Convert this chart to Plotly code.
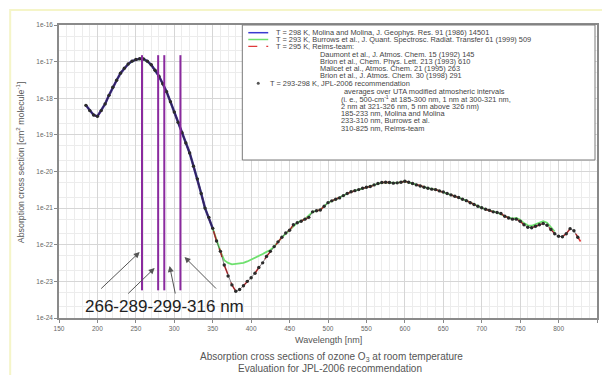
import plotly.graph_objects as go

# ---------------- data ----------------
jpl_wl = [185,190,195,200,205,210,215,220,225,230,235,240,245,250,255,260,265,270,275,280,
          285,290,295,300,305,310,315,320,325,330,335,340,345,350,355,360,365,370,375,380,
          385,390,395,400,405,410,415,420,425,430,435,440,445,450,455,460,465,470,475,480,
          485,490,495,500,505,510,515,520,525,530,535,540,545,550,555,560,565,570,575,580,
          585,590,595,600,605,610,615,620,625,630,635,640,645,650,655,660,665,670,675,680,
          685,690,695,700,705,710,715,720,725,730,735,740,745,750,755,760,765,770,775,780,
          785,790,795,800,805,810,815,820,825]
jpl_sigma = [6.4e-19,4.6e-19,3.5e-19,3.2e-19,4.6e-19,7.0e-19,1.2e-18,2.0e-18,3.1e-18,4.8e-18,
             6.6e-18,8.6e-18,1.03e-17,1.14e-17,1.2e-17,1.18e-17,1.03e-17,8.2e-18,5.8e-18,4.0e-18,
             2.5e-18,1.5e-18,8.0e-19,4.2e-19,2.2e-19,1.15e-19,6.0e-20,3.2e-20,1.4e-20,6.3e-21,
             2.5e-21,1.0e-21,5.6e-22,2.8e-22,1.26e-22,6.6e-23,2.8e-23,1.4e-23,8.0e-24,5.4e-24,
             6.0e-24,7.6e-24,1.0e-23,1.26e-23,1.66e-23,2.4e-23,3.2e-23,4.8e-23,6.6e-23,8.9e-23,
             1.2e-22,1.6e-22,2.1e-22,2.5e-22,3.5e-22,4.0e-22,4.4e-22,5.0e-22,5.6e-22,7.9e-22,
             8.5e-22,8.9e-22,1.12e-21,1.41e-21,1.58e-21,1.74e-21,1.9e-21,2.2e-21,2.5e-21,2.8e-21,
             3.0e-21,3.2e-21,3.5e-21,3.7e-21,3.9e-21,4.3e-21,4.7e-21,5.0e-21,5.1e-21,5.0e-21,
             4.8e-21,4.9e-21,5.1e-21,5.4e-21,5.1e-21,4.7e-21,4.3e-21,4.0e-21,3.7e-21,3.5e-21,
             3.3e-21,3.2e-21,2.95e-21,2.75e-21,2.5e-21,2.3e-21,2.1e-21,1.95e-21,1.74e-21,1.6e-21,
             1.4e-21,1.26e-21,1.12e-21,1.02e-21,9.3e-22,8.7e-22,7.9e-22,7.6e-22,7.1e-22,6.0e-22,
             5.4e-22,5.0e-22,5.0e-22,4.4e-22,3.5e-22,3.0e-22,2.9e-22,3.2e-22,3.5e-22,3.8e-22,
             3.4e-22,2.6e-22,2.0e-22,1.7e-22,1.66e-22,2.0e-22,2.75e-22,2.4e-22,1.6e-22]

# Molina & Molina (185-350 nm)
molina_wl = [185,190,195,200,205,210,215,220,225,230,235,240,245,250,255,260,265,270,275,280,
             285,290,295,300,305,310,315,320,325,330,335,340,345,350]
molina_sigma = [6.4e-19,4.6e-19,3.5e-19,3.2e-19,4.6e-19,7.0e-19,1.2e-18,2.0e-18,3.1e-18,4.8e-18,
                6.6e-18,8.6e-18,1.03e-17,1.14e-17,1.2e-17,1.18e-17,1.03e-17,8.2e-18,5.8e-18,4.0e-18,
                2.5e-18,1.5e-18,8.0e-19,4.2e-19,2.2e-19,1.15e-19,6.0e-20,3.2e-20,1.4e-20,6.3e-21,
                2.5e-21,1.0e-21,5.6e-22,2.8e-22]

# Burrows et al. (230-795 nm); differs from the others in the Huggins minimum and near 780 nm
burrows_wl = [230,240,250,260,270,280,290,300,310,320,330,340,350,355,360,365,370,375,380,385,
              390,395,400,405,410,415,420,425,430,435,440,450,460,470,480,490,500,510,520,530,
              540,550,560,570,580,590,600,610,620,630,640,650,660,670,680,690,700,710,720,730,
              740,745,750,755,760,765,770,775,780,785,790,795]
burrows_sigma = [4.8e-18,8.6e-18,1.14e-17,1.18e-17,8.2e-18,4.0e-18,1.5e-18,4.2e-19,1.15e-19,3.2e-20,
                 6.3e-21,1.0e-21,2.8e-22,1.26e-22,6.6e-23,3.8e-23,3.2e-23,2.9e-23,3.0e-23,3.1e-23,
                 3.2e-23,3.5e-23,3.9e-23,4.3e-23,5.0e-23,5.6e-23,6.4e-23,7.2e-23,8.9e-23,1.2e-22,
                 1.6e-22,2.5e-22,4.0e-22,5.0e-22,7.9e-22,8.9e-22,1.41e-21,1.74e-21,2.2e-21,2.8e-21,
                 3.2e-21,3.7e-21,4.3e-21,5.0e-21,5.0e-21,4.9e-21,5.4e-21,4.7e-21,4.0e-21,3.5e-21,
                 3.2e-21,2.75e-21,2.3e-21,1.95e-21,1.6e-21,1.26e-21,1.02e-21,8.7e-22,7.6e-22,6.0e-22,
                 5.2e-22,5.4e-22,4.8e-22,3.9e-22,3.4e-22,3.3e-22,3.6e-22,4.0e-22,4.4e-22,4.0e-22,
                 3.0e-22,2.3e-22]

# Reims team (195-830 nm)
reims_wl = jpl_wl[2:] + [830]
reims_sigma = jpl_sigma[2:] + [1.1e-22]

# marked wavelengths (vertical purple lines) and their label
marked_wl = [258, 279, 287, 308]
marked_top = 1.5e-17
marked_bottom = 5.7e-24
marked_label = "266-289-299-316 nm"

y_tick_exp = [-16, -17, -18, -19, -20, -21, -22, -23, -24]
x_ticks = list(range(150, 851, 50))

legend_lines = [
    ("T = 298 K, Molina and Molina, J. Geophys. Res. 91 (1986) 14501", 275, 32.7),
    ("T = 293 K, Burrows et al., J. Quant. Spectrosc. Radiat. Transfer 61 (1999) 509", 275, 39.5),
    ("T = 295 K, Reims-team:", 275, 46.3),
    ("Daumont et al., J. Atmos. Chem. 15 (1992) 145", 319, 54),
    ("Brion et al., Chem. Phys. Lett. 213 (1993) 610", 319, 61.3),
    ("Malicet et al., Atmos. Chem. 21 (1995) 263", 319, 68.3),
    ("Brion et al., J. Atmos. Chem. 30 (1998) 291", 319, 75.3),
    ("T = 293-298 K, JPL-2006 recommendation", 269, 83.3),
    ("averages over UTA modified atmosheric intervals", 343, 91),
    ("(i. e., 500-cm<sup>-1</sup> at 185-300 nm, 1 nm at 300-321 nm,", 340, 98.7),
    ("2 nm at 321-326 nm, 5 nm above 326 nm)", 340, 106),
    ("185-233 nm, Molina and Molina", 340, 113.3),
    ("233-310 nm, Burrows et al.", 340, 120.7),
    ("310-825 nm, Reims-team", 340, 128.3),
]

# ---------------- layout helpers ----------------
W, H = 602, 375
ML, MR, MT, MB = 59, 3, 25, 57
PW, PH = W - ML - MR, H - MT - MB


def px(x):
    return (x - ML) / PW


def py(y):
    return (H - MB - y) / PH


FONT = "Liberation Sans, Arial, sans-serif"
BLUE = "#3a3ad0"
GREEN = "#6ee06e"
RED = "#e03a3a"
PURPLE = "#8a2a9e"
DOT = "#2b2b2b"

fig = go.Figure()

fig.add_trace(go.Scatter(x=burrows_wl, y=burrows_sigma, mode="lines",
                         line=dict(color=GREEN, width=1.8), showlegend=False))
fig.add_trace(go.Scatter(x=reims_wl, y=reims_sigma, mode="lines",
                         line=dict(color=RED, width=1.6, dash="dash"), showlegend=False))
fig.add_trace(go.Scatter(x=molina_wl, y=molina_sigma, mode="lines",
                         line=dict(color="#3a2a8a", width=2.4), showlegend=False))
fig.add_trace(go.Scatter(x=jpl_wl, y=jpl_sigma, mode="lines+markers",
                         line=dict(color="rgba(40,30,40,0.55)", width=1),
                         marker=dict(color=DOT, size=3.4), showlegend=False))

vx, vy = [], []
for w in marked_wl:
    vx += [w, w, None]
    vy += [marked_top, marked_bottom, None]
fig.add_trace(go.Scatter(x=vx, y=vy, mode="lines",
                         line=dict(color=PURPLE, width=2), showlegend=False))

shapes = []
annotations = []

# faint slide frame
shapes.append(dict(type="rect", xref="paper", yref="paper", x0=px(10), x1=px(606),
                   y0=py(10), y1=py(380), line=dict(color="#f5f5c8", width=2), layer="below"))

# legend box
shapes.append(dict(type="rect", xref="paper", yref="paper", x0=px(243), x1=px(597),
                   y0=py(25), y1=py(160), fillcolor="white", line=dict(color="#7a7a7a", width=1)))
shapes.append(dict(type="line", xref="paper", yref="paper", x0=px(249), x1=px(269),
                   y0=py(32.7), y1=py(32.7), line=dict(color=BLUE, width=1.5)))
shapes.append(dict(type="line", xref="paper", yref="paper", x0=px(249), x1=px(269),
                   y0=py(39.5), y1=py(39.5), line=dict(color=GREEN, width=1.5)))
shapes.append(dict(type="line", xref="paper", yref="paper", x0=px(249), x1=px(269),
                   y0=py(46.3), y1=py(46.3), line=dict(color=RED, width=1.3, dash="dash")))
shapes.append(dict(type="circle", xref="paper", yref="paper", x0=px(257.5), x1=px(260.5),
                   y0=py(81.8), y1=py(84.8), fillcolor="#555", line=dict(color="#555", width=0)))

for txt, x, y in legend_lines:
    annotations.append(dict(text=txt, xref="paper", yref="paper", x=px(x), y=py(y),
                            xanchor="left", yanchor="middle", showarrow=False,
                            font=dict(size=7.4, color="#444", family=FONT)))

# arrows towards the marked lines
arrows = [((140, 252), (100, 290)), ((155, 268), (127, 295)),
          ((170, 266), (176, 295)), ((185, 257), (218, 290))]
for (hx, hy), (tx, ty) in arrows:
    annotations.append(dict(text="", xref="paper", yref="paper", x=px(hx), y=py(hy),
                            ax=tx - hx, ay=ty - hy, showarrow=True, arrowhead=2,
                            arrowsize=1.2, arrowwidth=1, arrowcolor="#555"))

annotations.append(dict(text=marked_label, xref="paper", yref="paper", x=px(165), y=py(306),
                        xanchor="center", yanchor="middle", showarrow=False,
                        font=dict(size=17, color="#222", family=FONT)))

# axis titles and captions
annotations.append(dict(text="Absorption cross section [cm<sup>2</sup> molecule<sup>-1</sup>]",
                        xref="paper", yref="paper", x=px(20), y=py(163), textangle=-90,
                        xanchor="center", yanchor="middle", showarrow=False,
                        font=dict(size=8.8, color="#555", family=FONT)))
annotations.append(dict(text="Wavelength [nm]", xref="paper", yref="paper", x=px(330), y=py(340),
                        xanchor="center", yanchor="middle", showarrow=False,
                        font=dict(size=9, color="#555", family=FONT)))
annotations.append(dict(text="Absorption cross sections of ozone O<sub>3</sub> at room temperature",
                        xref="paper", yref="paper", x=px(333), y=py(357),
                        xanchor="center", yanchor="middle", showarrow=False,
                        font=dict(size=10, color="#555", family=FONT)))
annotations.append(dict(text="Evaluation for JPL-2006 recommendation",
                        xref="paper", yref="paper", x=px(331), y=py(368),
                        xanchor="center", yanchor="middle", showarrow=False,
                        font=dict(size=10, color="#555", family=FONT)))

fig.update_layout(
    width=W, height=H, autosize=False,
    margin=dict(l=ML, r=MR, t=MT, b=MB),
    paper_bgcolor="white", plot_bgcolor="white",
    showlegend=False,
    shapes=shapes, annotations=annotations,
    font=dict(family=FONT, color="#666"),
)
fig.update_xaxes(range=[150, 850], tickvals=x_ticks, ticktext=[str(t) for t in x_ticks],
                 tickfont=dict(size=6.5, color="#666"), ticks="outside", ticklen=3,
                 tickcolor="#888", showline=True, linecolor="#8a8a8a", linewidth=1.5,
                 mirror=True, showgrid=True, gridcolor="#d6d6d6", gridwidth=1, zeroline=False,
                 minor=dict(dtick=10, showgrid=True, gridcolor="#ececec", gridwidth=1))
fig.update_yaxes(type="log", range=[-24, -16],
                 tickvals=[10.0 ** e for e in y_tick_exp],
                 ticktext=["1e%d" % e for e in y_tick_exp],
                 tickfont=dict(size=6.5, color="#666"), ticks="outside", ticklen=3,
                 tickcolor="#888", showline=True, linecolor="#8a8a8a", linewidth=1.5,
                 mirror=True, showgrid=True, gridcolor="#d6d6d6", gridwidth=1, zeroline=False,
                 minor=dict(dtick="D2", showgrid=True, gridcolor="#ececec", gridwidth=1))

fig.write_html("out.html")
